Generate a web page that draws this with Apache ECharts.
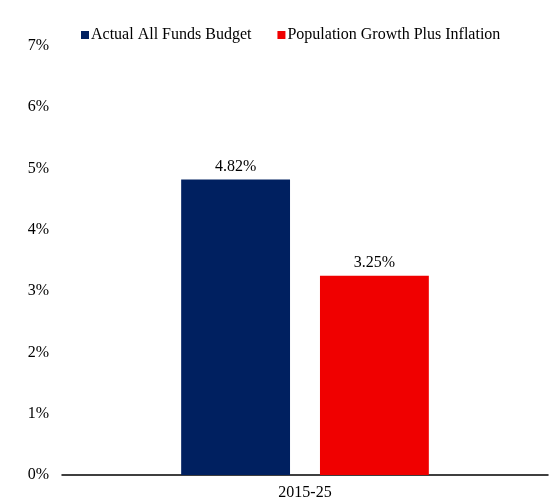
<!DOCTYPE html>
<html><head><meta charset="utf-8">
<script src="https://cdn.jsdelivr.net/npm/echarts@6/dist/echarts.min.js"></script>
<style>html,body{margin:0;padding:0;background:#fff}#c{width:556px;height:503px}</style>
</head><body><div id="c"></div>
<script>
const categories = ['2015-25'];
const seriesNames = ['Actual All Funds Budget', 'Population Growth Plus Inflation'];
const actualValues = [4.82];
const popInflValues = [3.25];
const yTicks = [0, 1, 2, 3, 4, 5, 6, 7];

const font = 'Liberation Serif, Times New Roman, serif';
const chart = echarts.init(document.getElementById('c'));
chart.setOption({
  animation: false,
  textStyle: { fontFamily: font },
  legend: {
    top: 22, left: 76,
    icon: 'rect', itemWidth: 8, itemHeight: 8, itemGap: 26,
    textStyle: { fontFamily: font, fontSize: 16, color: '#000', padding: [0,0,0,-3] },
    data: seriesNames
  },
  grid: { left: 62, right: 8, top: 46, bottom: 28 },
  xAxis: {
    type: 'category', data: categories,
    axisLine: { lineStyle: { color: '#000', width: 1.5 } },
    axisTick: { show: false },
    axisLabel: { fontFamily: font, fontSize: 16, color: '#000', margin: 10 }
  },
  yAxis: {
    type: 'value', min: yTicks[0], max: yTicks[yTicks.length-1], interval: 1,
    axisLine: { show: false }, axisTick: { show: false }, splitLine: { show: false },
    axisLabel: { fontFamily: font, fontSize: 16, color: '#000', margin: 13, formatter: v => v + '%' }
  },
  series: [
    { name: seriesNames[0], type: 'bar', data: actualValues, barWidth: '22.4%', barGap: '27.5%',
      itemStyle: { color: '#002060' },
      label: { show: true, position: 'top', fontFamily: font, fontSize: 16, color: '#000', distance: 5, formatter: p => p.value.toFixed(2) + '%' } },
    { name: seriesNames[1], type: 'bar', data: popInflValues, barWidth: '22.4%',
      itemStyle: { color: '#f00000' },
      label: { show: true, position: 'top', fontFamily: font, fontSize: 16, color: '#000', distance: 5, formatter: p => p.value.toFixed(2) + '%' } }
  ]
});
</script></body></html>
